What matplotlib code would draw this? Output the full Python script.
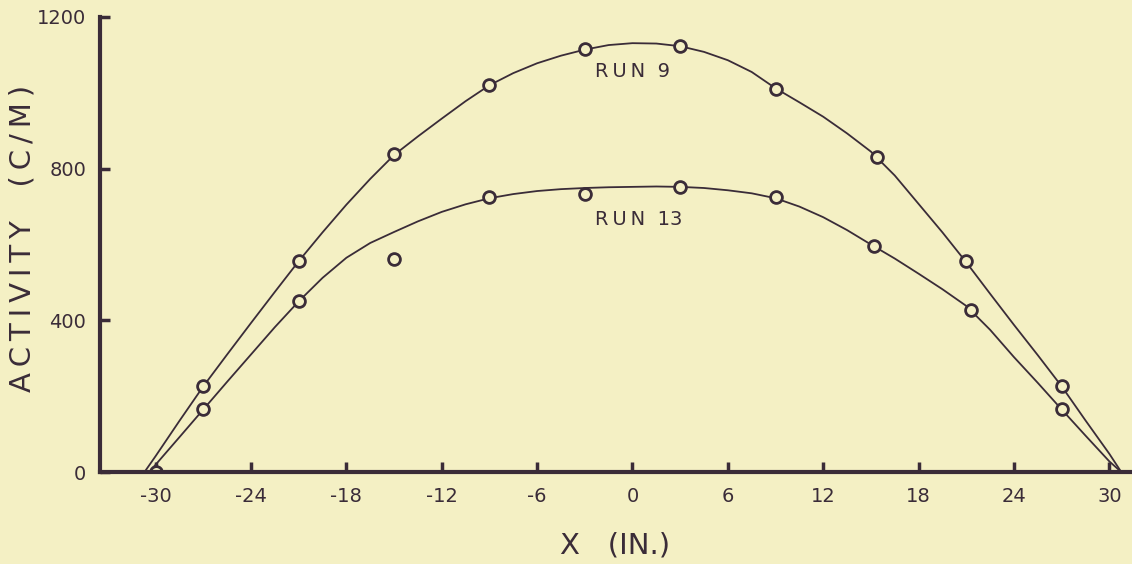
import matplotlib
matplotlib.use("Agg")
import matplotlib.pyplot as plt

# ---- data ----
run9_x = [-27, -21, -15, -9, -3, 3, 9, 15.4, 21, 27]
run9_y = [226, 556, 838, 1021, 1115, 1123, 1010, 832, 556, 226]

run13_x = [-30, -27, -21, -15, -9, -3, 3, 9, 15.2, 21.3, 27]
run13_y = [0, 165, 451, 562, 724, 734, 751, 725, 596, 428, 165]

# hand-drawn smooth curves
curve9_x = [-30.7, -30, -28.5, -27, -25.5, -24, -22.5, -21, -19.5, -18, -16.5, -15,
            -13.5, -12, -10.5, -9, -7.5, -6, -4.5, -3, -1.5, 0, 1.5, 3, 4.5, 6, 7.5,
            9, 10.5, 12, 13.5, 15, 16.5, 18, 19.5, 21, 22.5, 24, 25.5, 27, 28.5, 30, 30.75]
curve9_y = [0, 42, 135, 226, 310, 393, 475, 556, 632, 705, 773, 836,
            885, 932, 978, 1020, 1052, 1078, 1098, 1114, 1126, 1131, 1130, 1123, 1108, 1086, 1055,
            1012, 975, 937, 893, 845, 782, 707, 632, 553, 470, 388, 308, 226, 136, 48, 0]

curve13_x = [-30.4, -28.5, -27, -25.5, -24, -22.5, -21, -19.5, -18, -16.5, -15,
             -13.5, -12, -10.5, -9, -7.5, -6, -4.5, -3, -1.5, 0, 1.5, 3, 4.5, 6, 7.5,
             9, 10.5, 12, 13.5, 15, 16.5, 18, 19.5, 21, 22.5, 24, 25.5, 27, 28.5, 30, 30.75]
curve13_y = [0, 92, 165, 238, 310, 382, 450, 512, 565, 604, 633,
             661, 686, 706, 722, 733, 741, 746, 749, 751, 752, 753, 752, 749, 743, 735,
             722, 700, 672, 638, 600, 563, 523, 482, 438, 375, 303, 235, 165, 96, 28, 0]

x_ticks = [-30, -24, -18, -12, -6, 0, 6, 12, 18, 24, 30]
y_ticks = [0, 400, 800, 1200]

BG = "#f4f0c4"
INK = "#3a2c38"
TS = "\u2009"  # thin space for letter spacing of the lettering

plt.rcParams['font.family'] = ['DejaVu Sans']

fig = plt.figure(figsize=(11.32, 5.64), dpi=100, facecolor=BG)
ax = fig.add_axes([100/1132, 92/564, 1030/1132, 455/564], facecolor=BG)

ax.plot(curve9_x, curve9_y, color=INK, lw=1.3, zorder=2, solid_joinstyle='round')
ax.plot(curve13_x, curve13_y, color=INK, lw=1.3, zorder=2, solid_joinstyle='round')
for xs, ys in ((run9_x, run9_y), (run13_x, run13_y)):
    ax.plot(xs, ys, linestyle='none', marker='o', markersize=8.5,
            markerfacecolor=BG, markeredgecolor=INK, markeredgewidth=2.0,
            zorder=3, clip_on=True)

ax.set_xlim(-33.5, 31.3)
ax.set_ylim(0, 1200)

for s in ('top', 'right'):
    ax.spines[s].set_visible(False)
for s in ('left', 'bottom'):
    ax.spines[s].set_color(INK)
    ax.spines[s].set_linewidth(3)
    ax.spines[s].set_zorder(4)

ax.set_xticks(x_ticks)
ax.set_xticklabels([str(v) for v in x_ticks])
ax.set_yticks(y_ticks)
ax.set_yticklabels([str(v) for v in y_ticks])
ax.tick_params(axis='both', direction='in', length=7, width=2.5, color=INK,
               labelcolor=INK, labelsize=14)
ax.tick_params(axis='x', pad=11)
ax.tick_params(axis='y', pad=10)

ax.set_xlabel("X   (IN.)", fontsize=21, color=INK, labelpad=18)
ax.set_ylabel(TS.join("ACTIVITY") + "   " + TS + TS.join("(C/M)"),
              fontsize=21, color=INK)
ax.yaxis.set_label_coords(-0.062, 0.514)

ax.text(0, 1055, TS.join("RUN") + "  9", fontsize=14, color=INK, ha='center', va='center')
ax.text(0.4, 667, TS.join("RUN") + "  13", fontsize=14, color=INK, ha='center', va='center')

fig.savefig("out.png", dpi=100, facecolor=BG)
